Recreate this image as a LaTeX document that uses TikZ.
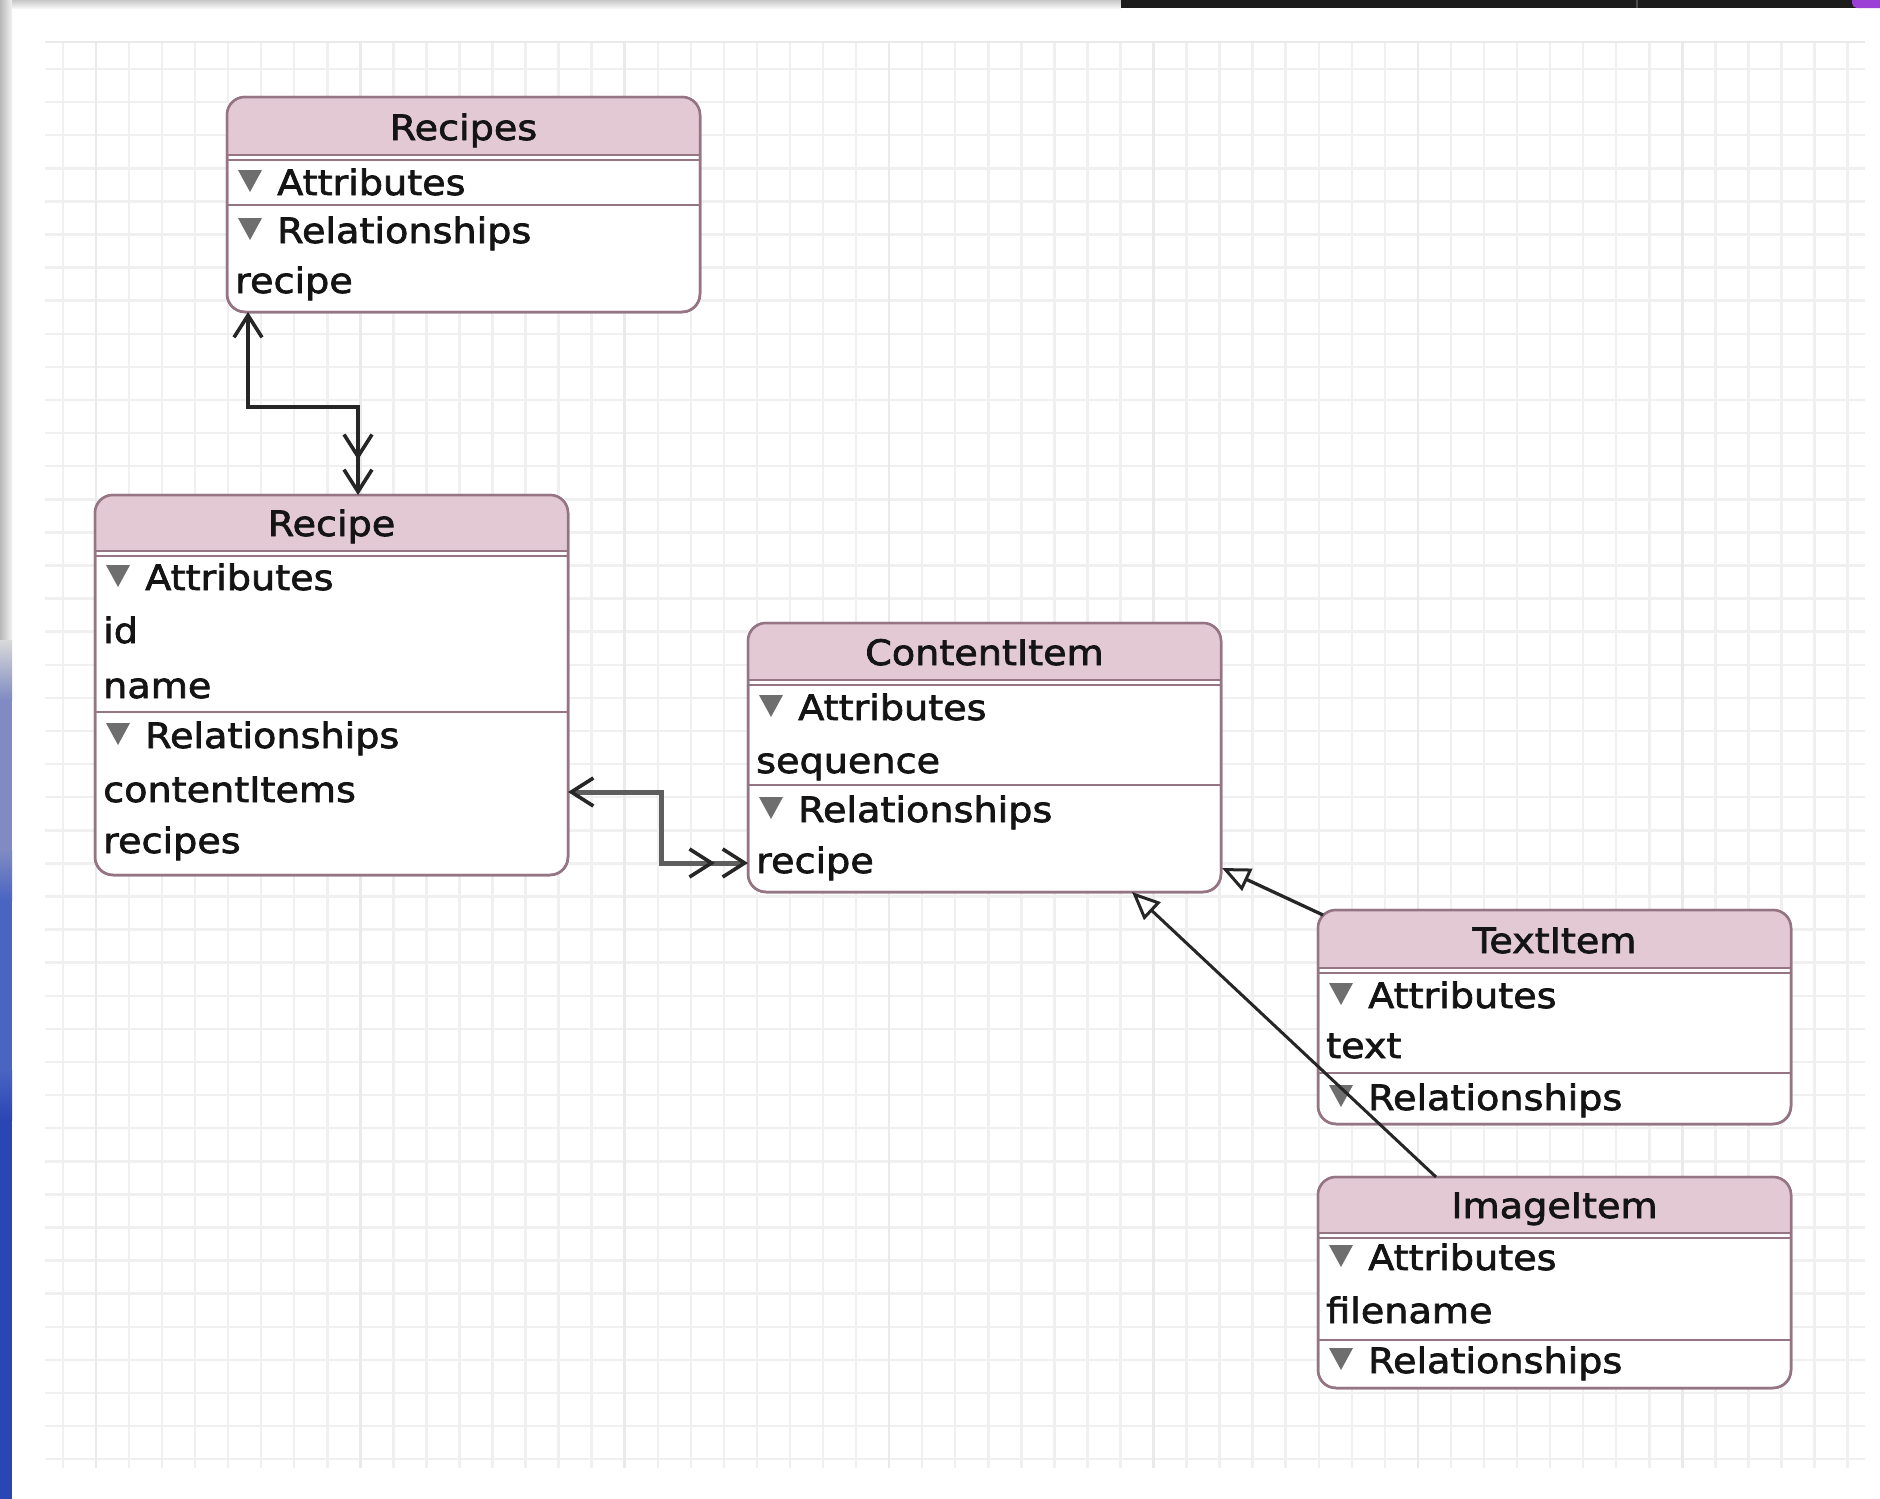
\documentclass[tikz,border=0pt]{standalone}
\usepackage{fontspec}
\newfontfamily\entfont{DejaVu Sans}[FakeStretch=1.09, FakeBold=2.0]
\usetikzlibrary{arrows.meta,calc}

\definecolor{gridminor}{HTML}{F0F0F0}
\definecolor{gridmajor}{HTML}{EAEAEA}
\definecolor{headfill}{HTML}{E2C9D3}
\definecolor{boxline}{HTML}{957484}
\definecolor{disclose}{HTML}{6E6E6E}
\definecolor{linkcol}{HTML}{262626}
\definecolor{linkgray}{HTML}{5E5E5E}
\definecolor{desklav}{HTML}{7F8BC2}
\definecolor{deskmid}{HTML}{4A64C2}
\definecolor{deskblue}{HTML}{2A46B4}
\definecolor{dockpurple}{HTML}{9B3FD6}

\tikzset{
  entitybox/.style={draw=boxline, line width=2.5pt, fill=white,
    rounded corners=18pt, minimum width=473pt, anchor=north west,
    outer sep=0pt, inner sep=0pt},
  etext/.style={font=\entfont\fontsize{35}{42}\selectfont, inner sep=0pt,
    text=black!92},
  conn/.style={draw=linkcol, line width=3.6pt},
  connsel/.style={draw=linkgray, line width=5pt},
}

% entity: name, x, y, height, header height, title
\newcommand\entity[6]{%
  \node[entitybox, minimum height=#4pt] (#1) at (#2,#3) {};
  \begin{scope}
    \clip[rounded corners=18pt] (#1.south west) rectangle (#1.north east);
    \fill[headfill] (#1.north west) rectangle ($(#1.north east)+(0,#5-2)$);
  \end{scope}
  \draw[boxline, line width=1.8pt] ($(#1.north west)+(0,#5-2)$) -- ($(#1.north east)+(0,#5-2)$);
  \draw[boxline, line width=1.8pt] ($(#1.north west)+(0,#5+3)$) -- ($(#1.north east)+(0,#5+3)$);
  \draw[boxline, line width=2.5pt, rounded corners=18pt] (#1.south west) rectangle (#1.north east);
  \node[etext, anchor=base] (#1-title) at ($(#1.north)+(0,#5-17)$) {#6};
}
% collapsible group row: node name, entity, baseline offset, text
\newcommand\grouprow[4]{%
  \fill[disclose] ($(#2.north west)+(11,#3-25)$) -- ++(24,0) -- ++(-12,22) -- cycle;
  \node[etext, anchor=base west] (#1) at ($(#2.north west)+(50,#3)$) {#4};
}
% plain field row: node name, entity, baseline offset, text
\newcommand\fieldrow[4]{%
  \node[etext, anchor=base west] (#1) at ($(#2.north west)+(8,#3)$) {#4};
}
% separator line: entity, offset
\newcommand\seprow[2]{%
  \draw[boxline, line width=2.2pt] ($(#1.north west)+(0,#2)$) -- ($(#1.north east)+(0,#2)$);
}

\begin{document}
\begin{tikzpicture}[x=1pt, y=-1pt]
  \useasboundingbox (0,0) rectangle (1880,1499);
  \fill[white] (0,0) rectangle (1880,1499);

  % desktop and window frame
  \shade[left color=black!28, right color=black!5] (0,0) rectangle (12,640);
  \shade[top color=black!15, bottom color=desklav] (0,640) rectangle (12,700);
  \fill[desklav] (0,700) rectangle (12,850);
  \shade[top color=desklav, bottom color=deskmid] (0,850) rectangle (12,900);
  \fill[deskmid] (0,900) rectangle (12,1070);
  \shade[top color=deskmid, bottom color=deskblue] (0,1070) rectangle (12,1120);
  \fill[deskblue] (0,1120) rectangle (12,1499);
  \shade[top color=black!22, bottom color=black!4] (12,0) rectangle (1121,8);
  \fill[black!89] (1121,0) rectangle (1880,8);
  \draw[black!70, line width=1.5pt] (1637,0) -- (1637,8);
  \fill[dockpurple, rounded corners=5pt] (1852,-8) rectangle (1892,8);

  % grid
  \foreach \k in {0,...,54} {
    \pgfmathsetmacro\gx{62.85+33.05*\k}
    \draw[gridminor, line width=2.5pt] (\gx,42) -- (\gx,1468);
  }
  \foreach \k in {0,...,42} {
    \pgfmathsetmacro\gy{69+33.1*\k}
    \draw[gridminor, line width=2.5pt] (45,\gy) -- (1865,\gy);
  }
  \foreach \k in {1,9,...,49} {
    \pgfmathsetmacro\gx{62.85+33.05*\k}
    \draw[gridmajor, line width=2.5pt] (\gx,42) -- (\gx,1468);
  }
  \draw[gridmajor, line width=1.5pt] (45,42) -- (1865,42);

  % Recipes
  \entity{recipes}{227}{97}{215}{60}{Recipes}
  \seprow{recipes}{108}
  \grouprow{recipes-attr}{recipes}{98}{Attributes}
  \grouprow{recipes-rel}{recipes}{146}{Relationships}
  \fieldrow{recipes-recipe}{recipes}{196}{recipe}

  % Recipe
  \entity{recipe}{95}{495}{380}{58}{Recipe}
  \seprow{recipe}{217}
  \grouprow{recipe-attr}{recipe}{95}{Attributes}
  \fieldrow{recipe-id}{recipe}{148}{id}
  \fieldrow{recipe-name}{recipe}{203}{name}
  \grouprow{recipe-rel}{recipe}{253}{Relationships}
  \fieldrow{recipe-items}{recipe}{307}{contentItems}
  \fieldrow{recipe-recipes}{recipe}{358}{recipes}

  % ContentItem
  \entity{content}{748}{623}{269}{59}{ContentItem}
  \seprow{content}{162}
  \grouprow{content-attr}{content}{97}{Attributes}
  \fieldrow{content-seq}{content}{150}{sequence}
  \grouprow{content-rel}{content}{199}{Relationships}
  \fieldrow{content-recipe}{content}{250}{recipe}

  % TextItem
  \entity{textitem}{1318}{910}{214}{60}{TextItem}
  \seprow{textitem}{163}
  \grouprow{textitem-attr}{textitem}{98}{Attributes}
  \fieldrow{textitem-text}{textitem}{148}{text}
  \grouprow{textitem-rel}{textitem}{200}{Relationships}

  % ImageItem
  \entity{imageitem}{1318}{1177}{211}{58}{ImageItem}
  \seprow{imageitem}{163}
  \grouprow{imageitem-attr}{imageitem}{93}{Attributes}
  \fieldrow{imageitem-file}{imageitem}{146}{filename}
  \grouprow{imageitem-rel}{imageitem}{196}{Relationships}

  % connector end points
  \coordinate (c1a) at ($(recipes.south west)+(21,0)$);
  \coordinate (c1b) at ($(recipe.north west)+(263,0)$);
  \coordinate (c2a) at ($(recipe.south east)+(0,-83)$);
  \coordinate (c2b) at ($(content.south west)+(0,-29)$);
  \coordinate (c3a) at ($(textitem.north west)+(5,5)$);
  \coordinate (c3b) at ($(content.south east)+(1,-24)$);
  \coordinate (c4a) at ($(imageitem.north west)+(118,0)$);
  \coordinate (c4b) at ($(content.south west)+(384,0)$);

  % relationships
  \draw[conn, {Straight Barb[length=22pt,width=28pt]}-{Straight Barb[length=22pt,width=28pt,sep=8pt]Straight Barb[length=22pt,width=28pt]}]
    (c1a) -- ++(0,95) -| (c1b);
  \draw[connsel, {Straight Barb[length=22pt,width=28pt,line width=3.6pt,color=linkcol]}-{Straight Barb[length=22pt,width=28pt,line width=3.6pt,color=linkcol,sep=6pt]Straight Barb[length=22pt,width=28pt,line width=3.6pt,color=linkcol]}]
    (c2a) -- ++(93,0) |- (c2b);

  % inheritance
  \draw[conn, line width=3.3pt, -{Triangle[length=28pt,width=24pt,fill=white,line width=3pt]}] (c3a) -- (c3b);
  \draw[conn, line width=3pt, -{Triangle[length=28pt,width=24pt,fill=white,line width=3pt]}] (c4a) -- (c4b);
\end{tikzpicture}
\end{document}
